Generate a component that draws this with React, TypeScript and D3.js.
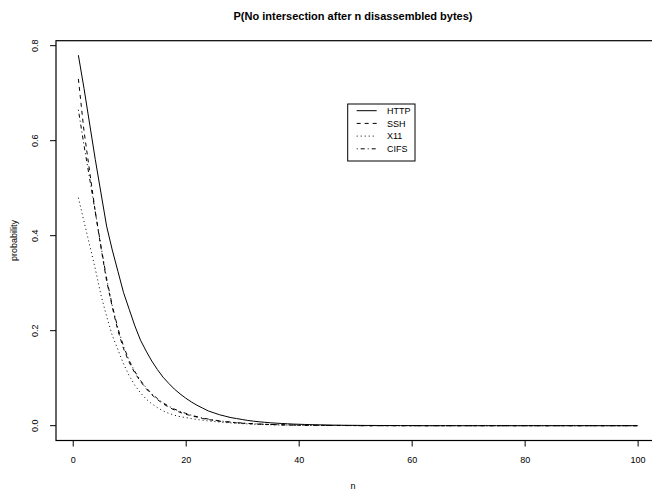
import React from 'react';
import * as d3 from 'd3';

const WIDTH = 652;
const HEIGHT = 492;
// plot region in pixels (R pads the data range by 4% on each side)
const BOX = { left: 56, right: 660, top: 40.7, bottom: 440.5 };
const FONT = '"Liberation Sans", Arial, Helvetica, sans-serif';

const TITLE = 'P(No intersection after n disassembled bytes)';
const X_LABEL = 'n';
const Y_LABEL = 'probability';
const X_TICKS = [0, 20, 40, 60, 80, 100];
const Y_TICKS = [0, 0.2, 0.4, 0.6, 0.8];
const SERIES_NAMES = ['HTTP', 'SSH', 'X11', 'CIFS'];

// probability for n = 1 .. 100
const HTTP = [
  0.78, 0.71, 0.635, 0.56, 0.49, 0.42, 0.37, 0.325, 0.28, 0.245,
  0.21, 0.18, 0.157, 0.136, 0.118, 0.102, 0.089, 0.077, 0.067, 0.058,
  0.05, 0.043, 0.037, 0.031, 0.027, 0.023, 0.02, 0.017, 0.015, 0.013,
  0.011, 0.0095, 0.0082, 0.0071, 0.0061, 0.0053, 0.0046, 0.004, 0.0034, 0.003,
  0.0026, 0.0022, 0.0019, 0.0017, 0.0014, 0.0012, 0.0011, 0.0009, 0.0008, 0.0007,
  0.0006, 0.0005, 0.0005, 0.0004, 0.0004, 0.0003, 0.0003, 0.0002, 0.0002, 0.0002,
  0, 0, 0, 0, 0, 0, 0, 0, 0, 0,
  0, 0, 0, 0, 0, 0, 0, 0, 0, 0,
  0, 0, 0, 0, 0, 0, 0, 0, 0, 0,
  0, 0, 0, 0, 0, 0, 0, 0, 0, 0,
];
const SSH = [
  0.73, 0.62, 0.535, 0.45, 0.375, 0.305, 0.25, 0.2, 0.162, 0.133,
  0.111, 0.093, 0.078, 0.065, 0.055, 0.046, 0.039, 0.033, 0.028, 0.024,
  0.021, 0.018, 0.015, 0.013, 0.011, 0.0095, 0.0082, 0.007, 0.006, 0.0052,
  0.0045, 0.0039, 0.0033, 0.0028, 0.0024, 0.0021, 0.0018, 0.0015, 0.0013, 0.0011,
  0.001, 0.0008, 0.0007, 0.0006, 0.0005, 0.0004, 0.0004, 0.0003, 0.0003, 0.0002,
  0, 0, 0, 0, 0, 0, 0, 0, 0, 0,
  0, 0, 0, 0, 0, 0, 0, 0, 0, 0,
  0, 0, 0, 0, 0, 0, 0, 0, 0, 0,
  0, 0, 0, 0, 0, 0, 0, 0, 0, 0,
  0, 0, 0, 0, 0, 0, 0, 0, 0, 0,
];
const X11 = [
  0.48, 0.43, 0.38, 0.33, 0.275, 0.23, 0.19, 0.16, 0.13, 0.105,
  0.085, 0.069, 0.056, 0.046, 0.038, 0.031, 0.026, 0.022, 0.019, 0.017,
  0.015, 0.013, 0.0115, 0.01, 0.0088, 0.0077, 0.0067, 0.0058, 0.005, 0.0043,
  0.0037, 0.0032, 0.0027, 0.0023, 0.002, 0.0017, 0.0014, 0.0012, 0.001, 0.0009,
  0.0008, 0.0007, 0.0006, 0.0005, 0.0004, 0.0004, 0.0003, 0.0003, 0.0002, 0.0002,
  0, 0, 0, 0, 0, 0, 0, 0, 0, 0,
  0, 0, 0, 0, 0, 0, 0, 0, 0, 0,
  0, 0, 0, 0, 0, 0, 0, 0, 0, 0,
  0, 0, 0, 0, 0, 0, 0, 0, 0, 0,
  0, 0, 0, 0, 0, 0, 0, 0, 0, 0,
];
const CIFS = [
  0.665, 0.59, 0.52, 0.45, 0.378, 0.31, 0.253, 0.205, 0.167, 0.137,
  0.114, 0.095, 0.08, 0.067, 0.057, 0.048, 0.041, 0.035, 0.03, 0.026,
  0.022, 0.019, 0.016, 0.014, 0.012, 0.01, 0.0088, 0.0075, 0.0065, 0.0056,
  0.0048, 0.0041, 0.0035, 0.003, 0.0026, 0.0022, 0.0019, 0.0016, 0.0014, 0.0012,
  0.001, 0.0009, 0.0008, 0.0007, 0.0006, 0.0005, 0.0004, 0.0004, 0.0003, 0.0003,
  0, 0, 0, 0, 0, 0, 0, 0, 0, 0,
  0, 0, 0, 0, 0, 0, 0, 0, 0, 0,
  0, 0, 0, 0, 0, 0, 0, 0, 0, 0,
  0, 0, 0, 0, 0, 0, 0, 0, 0, 0,
  0, 0, 0, 0, 0, 0, 0, 0, 0, 0,
];

// R line types: solid, dashed, dotted, dotdash
const DASHES = [null, '4,4', '1,3', '1,3,4,3'];

export default function App() {
  const series = [HTTP, SSH, X11, CIFS];

  const x = d3.scaleLinear().domain([-2.96, 103.96]).range([BOX.left, BOX.right]);
  const y = d3.scaleLinear().domain([-0.0312, 0.8105]).range([BOX.bottom, BOX.top]);
  const line = d3.line<number>()
    .x((d, i) => x(i + 1))
    .y((d) => y(d));
  const fmt = d3.format('.1f');

  const xAxis = d3.axisBottom(x).tickValues(X_TICKS).tickSize(6).tickPadding(10.3).tickFormat(d3.format('d'));

  const legendX = 347.7;
  const legendY = 104;
  const rowH = 12.7;

  return (
    <svg width={WIDTH} height={HEIGHT} style={{ position: 'absolute', left: 0, top: 0, background: '#fff' }}
      fontFamily={FONT}>
      <defs>
        <clipPath id='plot'>
          <rect x={BOX.left} y={BOX.top} width={BOX.right - BOX.left} height={BOX.bottom - BOX.top} />
        </clipPath>
      </defs>
      <rect x={0} y={0} width={WIDTH} height={HEIGHT} fill='#fff' />

      <text x={(BOX.left + BOX.right) / 2 - 5} y={19.5} textAnchor='middle' fontSize={11} fontWeight='bold'>{TITLE}</text>

      <g clipPath='url(#plot)'>
        {series.map((s, k) =>
          <path key={SERIES_NAMES[k]} d={line(s) || ''} fill='none' stroke='#000' strokeWidth={1}
            strokeDasharray={DASHES[k] || undefined} />
        )}
      </g>

      <rect x={BOX.left} y={BOX.top} width={BOX.right - BOX.left} height={BOX.bottom - BOX.top}
        fill='none' stroke='#000' strokeWidth={1.2} />

      <g transform={`translate(0,${BOX.bottom})`} ref={(elem) => {
        if (!elem) return;
        let g = d3.select(elem);
        g.call(xAxis);
        g.select('.domain').remove();
        g.attr('font-family', FONT).attr('font-size', 9);
        g.selectAll('line').attr('stroke', '#000');
        g.selectAll('text').attr('fill', '#000');
      }} />

      <g>
        {Y_TICKS.map((t) =>
          <g key={t} transform={`translate(0,${y(t)})`}>
            <line x1={BOX.left - 6} x2={BOX.left} stroke='#000' />
            <text transform='translate(37.5,0) rotate(-90)' textAnchor='middle' fontSize={9}>{fmt(t)}</text>
          </g>
        )}
      </g>

      <text x={(BOX.left + BOX.right) / 2 - 5} y={488.5} textAnchor='middle' fontSize={9}>{X_LABEL}</text>
      <text transform={`translate(17,${(BOX.top + BOX.bottom) / 2}) rotate(-90)`} textAnchor='middle' fontSize={9}>{Y_LABEL}</text>

      <g>
        <rect x={legendX} y={legendY} width={67.3} height={57} fill='#fff' stroke='#000' strokeWidth={1} />
        {SERIES_NAMES.map((name, k) =>
          <g key={name} transform={`translate(0,${legendY + 6.7 + rowH * k})`}>
            <line x1={356.7} x2={376.7} stroke='#000' strokeDasharray={DASHES[k] || undefined} />
            <text x={387} dy='0.35em' fontSize={9}>{name}</text>
          </g>
        )}
      </g>
    </svg>
  );
}
